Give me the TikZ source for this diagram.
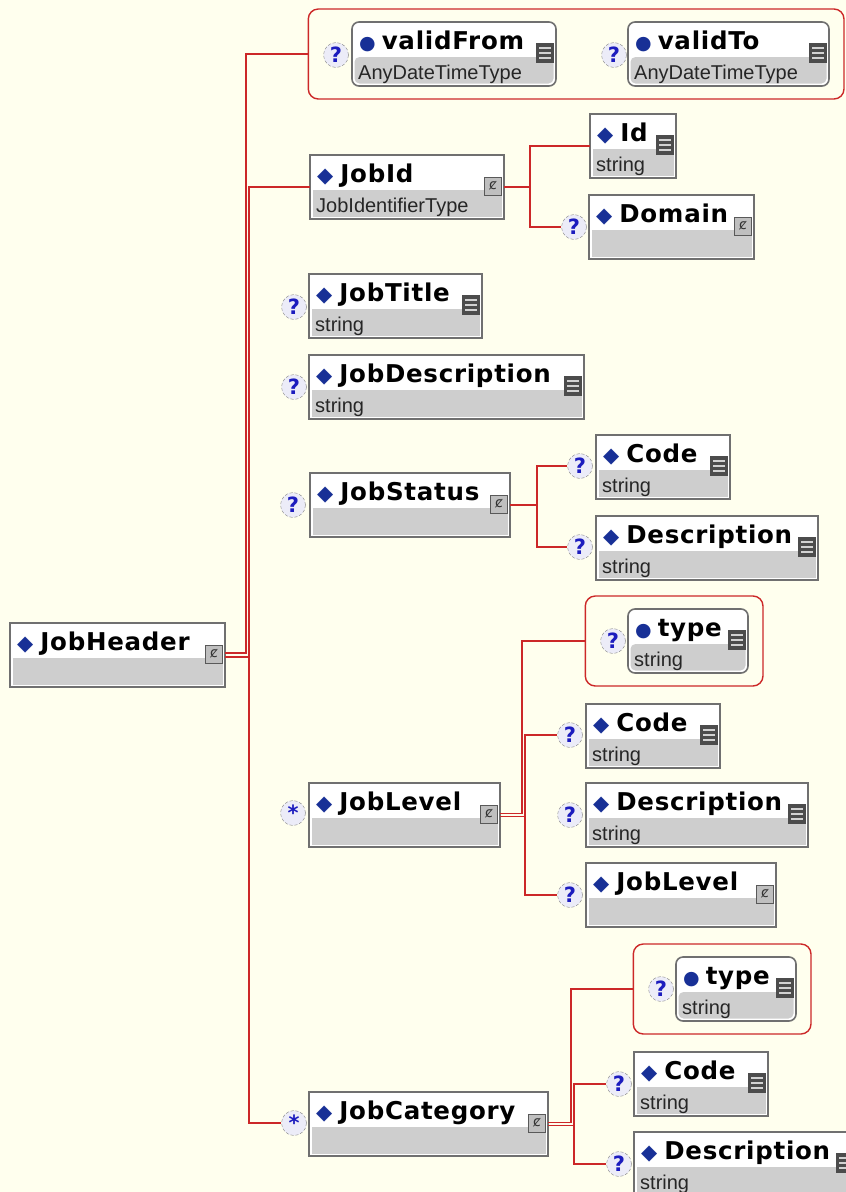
\documentclass[tikz,border=0pt]{standalone}
\usepackage{fontspec}
\setmainfont{Liberation Sans}
\newfontfamily\namefont[LetterSpace=3]{DejaVu Sans}
\newfontfamily\symfont{DejaVu Sans}
\usetikzlibrary{fit,positioning}
\definecolor{bgcream}{RGB}{255,255,238}
\definecolor{linkred}{RGB}{204,40,40}
\definecolor{boxgrey}{RGB}{206,206,206}
\definecolor{edgegrey}{RGB}{112,112,112}
\definecolor{diamblue}{RGB}{24,48,150}
\definecolor{qblue}{RGB}{28,28,190}
\definecolor{qfill}{RGB}{236,236,248}

\newcommand{\eldiam}{{\symfont\fontsize{21}{21}\selectfont\color{diamblue}\char"25C6}\hspace{7pt}}
\newcommand{\atdot}{{\symfont\fontsize{19}{19}\selectfont\color{diamblue}\char"25CF}\hspace{6pt}}

\tikzset{
  link/.style={draw=linkred, line width=1.6pt},
  elbox/.style={draw=edgegrey, line width=1.6pt, fill=white, anchor=north west,
    minimum height=64pt, inner sep=0pt, outer sep=0pt},
  atbox/.style={elbox, rounded corners=7pt},
  elbox fill/.style={},
  atbox fill/.style={rounded corners=5pt},
  elname/.style={font=\namefont\bfseries\fontsize{24.5}{28}\selectfont, inner sep=0pt, anchor=base west},
  eltype/.style={font=\fontsize{20}{24}\selectfont, text=black!85, inner sep=0pt, anchor=base west},
  optmark/.style={circle, draw=gray, densely dashed, fill=qfill, minimum size=25pt, inner sep=0pt,
    font=\namefont\bfseries\fontsize{21}{22}\selectfont, text=qblue},
  attgroup/.style={draw=linkred, line width=1.4pt, rounded corners=10pt, inner xsep=15pt, inner ysep=13pt},
  cicon/.pic={
    \draw[fill=gray!50, draw=black!65, line width=0.8pt] (-8.5pt,-9pt) rectangle (8.5pt,9pt);
    \node[font=\symfont\fontsize{14}{14}\selectfont, text=black!80, inner sep=0pt] {ȼ};},
  sicon/.pic={
    \fill[black!70] (-9pt,-10pt) rectangle (9pt,10pt);
    \foreach \yy in {-5,0,5} \draw[gray!35, line width=1.6pt] (-6pt,\yy pt) -- (6pt,\yy pt);},
}

% box: [style]{name}{top left}{width}{title}{type}{icon}
\newcommand{\elembox}[7][elbox]{%
  \node[#1, minimum width=#4pt] (#2) at (#3) {};
  \fill[boxgrey, #1 fill] ([shift={(2.5pt,2.5pt)}]#2.south west) rectangle ([shift={(-2.5pt,-35pt)}]#2.north east);
  \node[elname] (#2-t) at ([shift={(7pt,-27pt)}]#2.north west) {#5};
  \node[eltype] (#2-s) at ([shift={(6pt,-57pt)}]#2.north west) {#6};
  \pic at ([shift={(-11pt,-31pt)}]#2.north east) {#7};
}

\begin{document}
\begin{tikzpicture}[x=1pt, y=-1pt]
  \useasboundingbox (0,0) rectangle (846,1192);
  \fill[bgcream] (0,0) rectangle (846,1192);

  \elembox{jobheader}{10,623}{215}{\eldiam JobHeader}{}{cicon}

  % attributes of JobHeader
  \node[optmark] (qvf) at (336,55) {?};
  \elembox[atbox]{validfrom}{352,22}{204}{\atdot validFrom}{AnyDateTimeType}{sicon}
  \node[optmark] (qvt) at (614,55) {?};
  \elembox[atbox]{validto}{628,22}{201}{\atdot validTo}{AnyDateTimeType}{sicon}
  \node[attgroup, fit=(qvf)(validfrom)(validto)] (attrs) {};

  \elembox{jobid}{310,155}{194}{\eldiam JobId}{JobIdentifierType}{cicon}
  \elembox{id}{590,114}{86}{\eldiam Id}{string}{sicon}
  \node[optmark] (qdom) at (574,227) {?};
  \elembox{domain}{589,195}{165}{\eldiam Domain}{}{cicon}

  \node[optmark] (qtitle) at (294,307) {?};
  \elembox{jobtitle}{309,274}{173}{\eldiam JobTitle}{string}{sicon}
  \node[optmark] (qdesc) at (294,387) {?};
  \elembox{jobdesc}{309,355}{275}{\eldiam JobDescription}{string}{sicon}

  \node[optmark] (qstat) at (293,505) {?};
  \elembox{jobstatus}{310,473}{200}{\eldiam JobStatus}{}{cicon}
  \node[optmark] (qstcode) at (580,466) {?};
  \elembox{stcode}{596,435}{134}{\eldiam Code}{string}{sicon}
  \node[optmark] (qstdesc) at (580,547) {?};
  \elembox{stdesc}{596,516}{222}{\eldiam Description}{string}{sicon}

  \node[optmark] (starlevel) at (293,813) {*};
  \elembox{joblevel}{309,783}{191}{\eldiam JobLevel}{}{cicon}
  \node[optmark] (qlvtype) at (613,641) {?};
  \elembox[atbox]{lvtype}{628,609}{120}{\atdot type}{string}{sicon}
  \node[attgroup, fit=(qlvtype)(lvtype)] (lvgroup) {};
  \node[optmark] (qlvcode) at (570,735) {?};
  \elembox{lvcode}{586,704}{134}{\eldiam Code}{string}{sicon}
  \node[optmark] (qlvdesc) at (570,815) {?};
  \elembox{lvdesc}{586,783}{222}{\eldiam Description}{string}{sicon}
  \node[optmark] (qlvlevel) at (570,895) {?};
  \elembox{lvlevel}{586,863}{190}{\eldiam JobLevel}{}{cicon}

  \node[optmark] (starcat) at (294,1123) {*};
  \elembox{jobcat}{309,1092}{239}{\eldiam JobCategory}{}{cicon}
  \node[optmark] (qcttype) at (661,989) {?};
  \elembox[atbox]{cttype}{676,957}{120}{\atdot type}{string}{sicon}
  \node[attgroup, fit=(qcttype)(cttype)] (ctgroup) {};
  \node[optmark] (qctcode) at (619,1084) {?};
  \elembox{ctcode}{634,1052}{134}{\eldiam Code}{string}{sicon}
  \node[optmark] (qctdesc) at (619,1164) {?};
  \elembox{ctdesc}{634,1132}{222}{\eldiam Description}{string}{sicon}

  % connectors
  \coordinate (busA) at (246,0);
  \coordinate (busB) at (249,0);
  \draw[link] ([yshift=2pt]jobheader.east) -| (busA |- attrs.west) -- (attrs.west);
  \draw[link] ([yshift=-2pt]jobheader.east) -- ([yshift=-2pt]jobheader.east -| busB);
  \draw[link] (jobid.west) -| (busB |- starcat.west) -- (starcat.west);

  \draw[link] (jobid.east) -- ++(26,0) coordinate (idbus);
  \draw[link] (id.west) -| (idbus) |- (qdom.west);

  \draw[link] (jobstatus.east) -- ++(27,0) coordinate (stbus);
  \draw[link] (qstcode.west) -| (stbus) |- (qstdesc.west);

  \coordinate (lvbusA) at (522,0);
  \coordinate (lvbusB) at (525,0);
  \draw[link] ([yshift=1.5pt]joblevel.east) -| (lvbusA |- lvgroup.west) -- (lvgroup.west);
  \draw[link] ([yshift=-1.5pt]joblevel.east) -| (lvbusB |- qlvcode.west) -- (qlvcode.west);
  \draw[link] ([yshift=-1.5pt]joblevel.east -| lvbusB) |- (qlvlevel.west);

  \coordinate (ctbusA) at (571,0);
  \coordinate (ctbusB) at (574,0);
  \draw[link] ([yshift=1.5pt]jobcat.east) -| (ctbusA |- ctgroup.west) -- (ctgroup.west);
  \draw[link] ([yshift=-1.5pt]jobcat.east) -| (ctbusB |- qctcode.west) -- (qctcode.west);
  \draw[link] ([yshift=-1.5pt]jobcat.east -| ctbusB) |- (qctdesc.west);
\end{tikzpicture}
\end{document}
